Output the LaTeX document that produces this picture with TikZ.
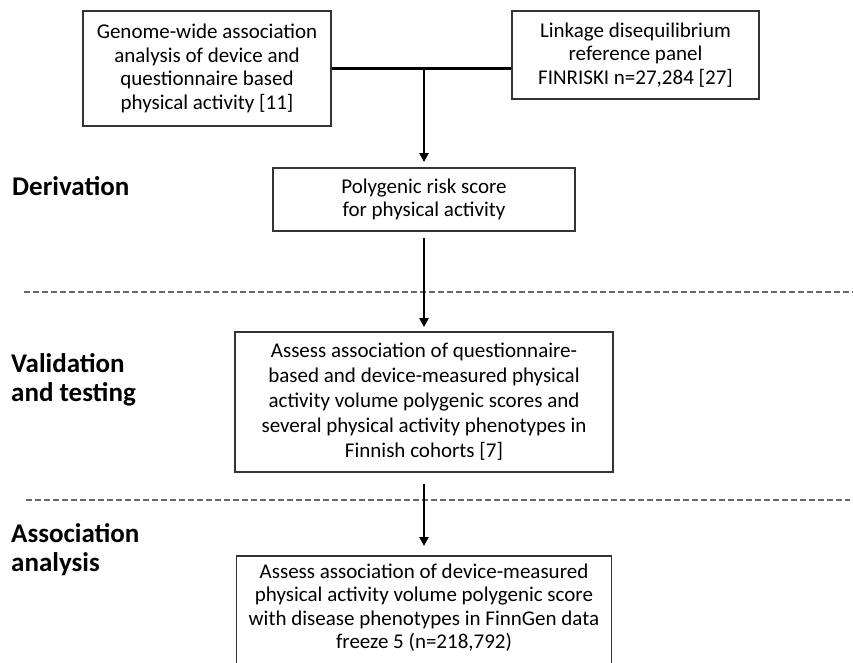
\documentclass[tikz,border=0pt]{standalone}
\usepackage{fontspec}
\setmainfont{Carlito}
\usepackage{tikz}
\usetikzlibrary{arrows.meta}

\begin{document}
\begin{tikzpicture}[x=1pt,y=-1pt,
  stagebox/.style={draw=black!80,line width=1.8pt,align=center,inner sep=0pt,
    text=black,font=\fontsize{21}{23.5}\selectfont},
  phase/.style={anchor=base west,align=left,inner sep=0pt,text=black,
    font=\bfseries\fontsize{27}{28.5}\selectfont},
  flow/.style={line width=2.6pt,-{Triangle[length=9pt,width=9pt]}},
  divider/.style={dash pattern=on 6pt off 3pt,line width=1.2pt,black!60}]

\useasboundingbox (0,0) rectangle (853,663);
\clip (0,0) rectangle (853,663);

% Stage separators
\draw[divider] (24,292) -- (853,292);
\draw[divider] (26,500) -- (850,500);

% Stage labels (base = last line)
\node[phase] (derivation) at (12,195) {Derivation};
\node[phase] (validation) at (11,401) {Validation\\and testing};
\node[phase] (association) at (11,571) {Association\\analysis};

% Inputs
\node[stagebox,minimum width=248pt,minimum height=115pt] (gwas) at (207,68.5)
  {Genome-wide association\\analysis of device and\\questionnaire based\\physical activity [11]};
\node[stagebox,minimum width=247pt,minimum height=88pt] (ld) at (635.5,55)
  {Linkage disequilibrium\\reference panel\\FINRISKI n=27,284 [27]};

% Score
\node[stagebox,minimum width=302pt,minimum height=63pt] (prs) at (424,199.5)
  {Polygenic risk score\\for physical activity};

% Validation
\node[stagebox,minimum width=378pt,minimum height=140pt,font=\fontsize{21}{25}\selectfont] (assess) at (424,402)
  {Assess association of questionnaire-\\based and device-measured physical\\activity volume polygenic scores and\\several physical activity phenotypes in\\Finnish cohorts [7]};

% Association (runs off the page)
\node[stagebox,anchor=north,minimum width=375pt,inner ysep=8pt,text depth=110pt] (disease) at (424,555)
  {Assess association of device-measured\\physical activity volume polygenic score\\with disease phenotypes in FinnGen data\\freeze 5 (n=218,792)};

% Connectors
\coordinate (split) at (gwas.east -| prs.north);
\draw[line width=2.6pt] (gwas.east) -- (gwas.east -| ld.west);
\draw[flow,shorten >=5pt] (split) -- (prs.north);
\draw[flow,shorten <=6pt,shorten >=4pt] (prs) -- (assess);
\draw[flow,shorten <=11pt,shorten >=9pt] (assess) -- (disease);

\end{tikzpicture}
\end{document}
